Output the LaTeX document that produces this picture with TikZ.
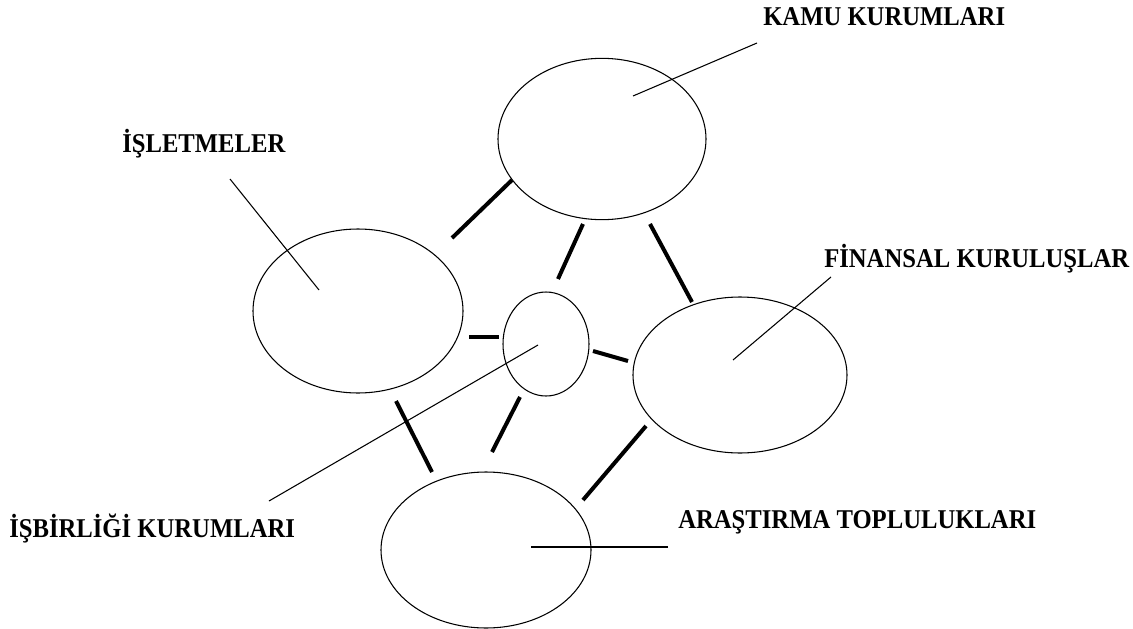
\documentclass[tikz,border=0pt]{standalone}
\usepackage{fontspec}
\setmainfont{Liberation Serif}
\usetikzlibrary{shapes.geometric}
\newcommand{\tall}[1]{\scalebox{1}[1.1]{#1}}
\begin{document}
\begin{tikzpicture}[x=0.75pt,y=-0.75pt,
  blob/.style={ellipse, draw, line width=0.8pt, inner sep=0pt},
  tag/.style={anchor=base west, inner sep=0pt, font=\fontsize{18.5}{20}\selectfont\bfseries},
  pointer/.style={line width=0.8pt},
  link/.style={line width=3pt, line cap=butt}]
\useasboundingbox (0,0) rectangle (1133,629);

% groups
\node[blob, minimum width=156pt, minimum height=121pt] (kamu) at (602,139) {};
\node[blob, minimum width=157.5pt, minimum height=123pt] (isl) at (358,311) {};
\node[blob, minimum width=64.5pt, minimum height=78pt] (isb) at (546,344) {};
\node[blob, minimum width=160.5pt, minimum height=117pt] (fin) at (740,375) {};
\node[blob, minimum width=157.5pt, minimum height=117pt] (ara) at (486,550) {};

% labels
\node[tag] (tkamu) at (763,25) {\tall{KAMU KURUMLARI}};
\node[tag] (tisl) at (122,152) {\tall{İŞLETMELER}};
\node[tag] (tfin) at (824,267) {\tall{FİNANSAL KURULUŞLAR}};
\node[tag] (tisb) at (9,537) {\tall{İŞBİRLİĞİ KURUMLARI}};
\node[tag] (tara) at (678,528) {\tall{ARAŞTIRMA TOPLULUKLARI}};

% label pointers
\coordinate (pk1) at (757,43);  \coordinate (pk2) at (633,96);
\coordinate (pi1) at (230,179); \coordinate (pi2) at (319,290);
\coordinate (pf1) at (831,277); \coordinate (pf2) at (733,360);
\coordinate (pb1) at (269,501); \coordinate (pb2) at (538,345);
\coordinate (pa1) at (668,547); \coordinate (pa2) at (531,547);
\draw[pointer] (pk1) -- (pk2);
\draw[pointer] (pi1) -- (pi2);
\draw[pointer] (pf1) -- (pf2);
\draw[pointer] (pb1) -- (pb2);
\draw[pointer] (pa1) -- (pa2);

% links between groups
\coordinate (ki1) at (512,180); \coordinate (ki2) at (452,238);
\coordinate (kb1) at (583,224); \coordinate (kb2) at (558,279);
\coordinate (kf1) at (650,224); \coordinate (kf2) at (692,302);
\coordinate (ib1) at (469,337); \coordinate (ib2) at (499,337);
\coordinate (bf1) at (593,351); \coordinate (bf2) at (628,361);
\coordinate (ba1) at (520,397); \coordinate (ba2) at (492,452);
\coordinate (fa1) at (646,426); \coordinate (fa2) at (583,500);
\coordinate (ia1) at (396,401); \coordinate (ia2) at (432,472);
\draw[link] (ki1) -- (ki2);
\draw[link] (kb1) -- (kb2);
\draw[link] (kf1) -- (kf2);
\draw[link] (ib1) -- (ib2);
\draw[link] (bf1) -- (bf2);
\draw[link] (ba1) -- (ba2);
\draw[link] (fa1) -- (fa2);
\draw[link] (ia1) -- (ia2);
\end{tikzpicture}
\end{document}
